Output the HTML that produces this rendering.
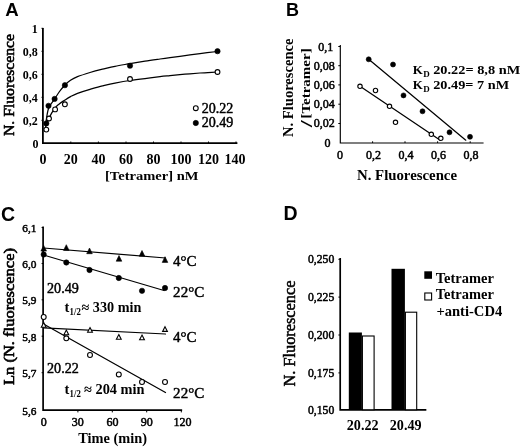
<!DOCTYPE html>
<html lang="en">
<head>
<meta charset="utf-8">
<title>Figure</title>
<style>
html,body{margin:0;padding:0;background:#fff;}
body{width:520px;height:448px;overflow:hidden;}
svg{display:block;will-change:transform;}
text{font-family:"Liberation Serif",serif;fill:#000;}
.b{font-weight:normal;stroke:#000;stroke-width:0.5px;stroke-linejoin:round;}
.B{font-weight:bold;}
.m{stroke:#000;stroke-width:0.35px;stroke-linejoin:round;}
.m2{stroke:#000;stroke-width:0.45px;stroke-linejoin:round;}
.pl{font-family:"Liberation Sans",sans-serif;font-weight:bold;font-size:18px;}
.ax{stroke:#000;stroke-width:1.15;fill:none;stroke-linecap:square;}
.tk{stroke:#000;stroke-width:1;fill:none;}
.ln{stroke:#000;stroke-width:1.25;fill:none;stroke-linecap:round;stroke-linejoin:round;}
.fc{fill:#000;stroke:#000;stroke-width:0.6;}
.oc{fill:#fff;stroke:#000;stroke-width:1.1;}
</style>
</head>
<body>
<svg width="520" height="448" viewBox="0 0 520 448">
<rect x="0" y="0" width="520" height="448" fill="#fff"/>

<!-- ================= PANEL A ================= -->
<g id="panelA">
<text class="pl" style="font-size:18.6px" x="5.2" y="16.4">A</text>
<!-- axes -->
<path class="ax" style="stroke-width:1.8" d="M42.9 29 V143.2 H236.5"/>
<path class="tk" d="M41.5 28.3H43.3 M41.5 51.3H43.3 M41.5 74.3H43.3 M41.5 97.3H43.3 M41.5 120.3H43.3
 M70.8 141.5V143.2 M98.4 141.5V143.2 M126 141.5V143.2 M153.5 141.5V143.2 M181 141.5V143.2 M208.5 141.5V143.2 M236 141.5V143.2"/>
<!-- y labels -->
<g class="B" font-size="12" text-anchor="end">
<text x="37.8" y="32.5">1</text>
<text x="37.8" y="55.5">0,8</text>
<text x="37.8" y="78.5">0,6</text>
<text x="37.8" y="101.5">0,4</text>
<text x="37.8" y="124.5">0,2</text>
<text x="38.6" y="147.6">0</text>
</g>
<!-- x labels -->
<g class="B" font-size="14" text-anchor="middle">
<text x="42.9" y="164">0</text>
<text x="70.8" y="164">20</text>
<text x="98.4" y="164">40</text>
<text x="126" y="164">60</text>
<text x="153.5" y="164">80</text>
<text x="181" y="164">100</text>
<text x="208.5" y="164">120</text>
<text x="235" y="164">140</text>
</g>
<text class="B" font-size="13.5" x="105" y="179.8" textLength="93.5" lengthAdjust="spacingAndGlyphs">[Tetramer] nM</text>
<text class="b" style="stroke-width:0.6px" font-size="15.2" transform="translate(14.2 136) rotate(-90)" textLength="102" lengthAdjust="spacingAndGlyphs">N. Fluorescence</text>
<!-- curves -->
<path class="ln" d="M45.6 125.0 C46.1 122.2 47.0 112.8 48.5 108.5 C50.0 104.2 52.7 102.0 54.5 99.2 C56.3 96.4 57.8 93.9 59.5 91.5 C61.2 89.1 63.2 86.9 65.0 85.0 C66.8 83.1 68.4 81.7 70.5 80.3 C72.6 78.9 74.2 78.0 77.5 76.7 C80.8 75.4 85.8 73.8 90.0 72.5 C94.2 71.2 98.3 70.2 102.5 69.2 C106.7 68.2 110.4 67.2 115.0 66.3 C119.6 65.4 125.0 64.5 130.0 63.6 C135.0 62.8 140.0 62.0 145.0 61.2 C150.0 60.4 155.8 59.6 160.0 59.0 C164.2 58.4 165.8 58.2 170.0 57.6 C174.2 57.0 180.0 56.3 185.0 55.6 C190.0 54.9 194.6 54.3 200.0 53.6 C205.4 52.9 214.6 51.9 217.5 51.5"/>
<path class="ln" d="M45.6 127.0 C46.1 125.6 47.2 121.8 48.7 118.7 C50.2 115.7 52.7 111.2 54.5 108.7 C56.3 106.2 57.8 105.2 59.5 103.7 C61.2 102.2 63.2 101.2 65.0 100.0 C66.8 98.8 68.4 97.7 70.5 96.6 C72.6 95.5 74.2 94.5 77.5 93.3 C80.8 92.1 85.8 90.5 90.0 89.3 C94.2 88.1 98.3 86.9 102.5 85.9 C106.7 84.9 110.4 84.0 115.0 83.1 C119.6 82.2 125.0 81.2 130.0 80.5 C135.0 79.8 140.0 79.2 145.0 78.6 C150.0 78.0 155.8 77.2 160.0 76.7 C164.2 76.2 165.8 76.1 170.0 75.7 C174.2 75.3 180.0 74.7 185.0 74.2 C190.0 73.8 194.6 73.4 200.0 73.0 C205.4 72.6 214.6 72.2 217.5 72.0"/>
<!-- points -->
<g class="fc">
<circle cx="46.3" cy="123.4" r="2.65"/>
<circle cx="48.5" cy="105.8" r="2.65"/>
<circle cx="54.6" cy="98.9" r="2.65"/>
<circle cx="64.9" cy="85.2" r="2.65"/>
<circle cx="130" cy="65.7" r="2.65"/>
<circle cx="217.5" cy="51.2" r="2.65"/>
</g>
<g class="oc">
<circle cx="46.3" cy="129.6" r="2.4"/>
<circle cx="49" cy="118.5" r="2.4"/>
<circle cx="55.1" cy="109.4" r="2.4"/>
<circle cx="64.9" cy="104.3" r="2.4"/>
<circle cx="130" cy="79" r="2.4"/>
<circle cx="217.5" cy="72" r="2.4"/>
</g>
<!-- legend -->
<circle class="oc" cx="195.8" cy="108.2" r="2.4"/>
<circle class="fc" cx="195.8" cy="123" r="2.65"/>
<text class="m2" font-size="14" x="201.7" y="112.5" textLength="31.6" lengthAdjust="spacingAndGlyphs">20.22</text>
<text class="m2" font-size="14" x="201.7" y="127.1" textLength="31.6" lengthAdjust="spacingAndGlyphs">20.49</text>
</g>

<!-- ================= PANEL B ================= -->
<g id="panelB">
<text class="pl" x="286" y="16">B</text>
<path class="ax" d="M340.3 45.5 V143 H483"/>
<path class="tk" d="M338.3 46.5H340.3 M338.3 65.7H340.3 M338.3 84.9H340.3 M338.3 104.2H340.3 M338.3 123.5H340.3
 M372.6 141.3V143 M405 141.3V143 M437.6 141.3V143 M470.2 141.3V143"/>
<g class="b" font-size="12" text-anchor="end">
<text x="333.3" y="50.6">0,1</text>
<text x="334.8" y="69.5">0,08</text>
<text x="334.8" y="88.5">0,06</text>
<text x="334.8" y="108">0,04</text>
<text x="334.8" y="127.2">0,02</text>
<text x="330.5" y="147.3">0</text>
</g>
<g class="b" font-size="12" text-anchor="middle">
<text x="340" y="158.8">0</text>
<text x="373.5" y="158.8">0,2</text>
<text x="406" y="158.8">0,4</text>
<text x="438.5" y="158.8">0,6</text>
<text x="471" y="158.8">0,8</text>
</g>
<text class="B" font-size="14.3" x="357" y="179.6" textLength="100" lengthAdjust="spacingAndGlyphs">N. Fluorescence</text>
<text class="B" font-size="14.3" transform="translate(293 137) rotate(-90)" textLength="98.5" lengthAdjust="spacingAndGlyphs">N. Fluorescence</text>
<text font-weight="bold" font-size="16" transform="translate(311.6 127.3) rotate(-90) scale(1.55 1)">/</text>
<text class="B" font-size="11.8" transform="translate(309.6 118.6) rotate(-90)" textLength="70.3" lengthAdjust="spacingAndGlyphs">[Tetramer]</text>
<!-- lines -->
<path class="ln" d="M368.7 59.3 L465.8 140.2"/>
<path class="ln" d="M360 86.3 L440.3 140.2"/>
<g class="fc">
<circle cx="368.7" cy="59.3" r="2.5"/>
<circle cx="393" cy="64.5" r="2.5"/>
<circle cx="403.5" cy="95.4" r="2.5"/>
<circle cx="422.5" cy="111.3" r="2.5"/>
<circle cx="449.5" cy="132.3" r="2.5"/>
<circle cx="470" cy="136.8" r="2.5"/>
</g>
<g class="oc">
<circle cx="360" cy="86.3" r="2.2"/>
<circle cx="375.5" cy="90.5" r="2.2"/>
<circle cx="389.5" cy="106.3" r="2.2"/>
<circle cx="395.5" cy="122.3" r="2.2"/>
<circle cx="431.3" cy="134.3" r="2.2"/>
<circle cx="440.8" cy="138.3" r="2.2"/>
</g>
<text class="B" font-size="13" x="412.7" y="74.2">K</text><text class="B" font-size="9" x="423.3" y="77">D</text><text class="B" font-size="13" x="433.2" y="74.2" textLength="87" lengthAdjust="spacingAndGlyphs">20.22= 8,8 nM</text>
<text class="B" font-size="13" x="412.7" y="89.4">K</text><text class="B" font-size="9" x="423.3" y="92.2">D</text><text class="B" font-size="13" x="433.2" y="89.4" textLength="76" lengthAdjust="spacingAndGlyphs">20.49= 7 nM</text>
</g>

<!-- ================= PANEL C ================= -->
<g id="panelC">
<text class="pl" style="font-size:19.5px" x="1" y="221">C</text>
<path class="ax" style="stroke-width:1.7" d="M43.1 227.3 V410.2 H181.3"/>
<path class="tk" d="M41.6 227.5H43.4 M41.6 263.5H43.4 M41.6 299.8H43.4 M41.6 336.2H43.4 M41.6 372.7H43.4
 M77.9 410.2V412.4 M112.3 410.2V412.4 M146.7 410.2V412.4 M181.3 410.2V412.4"/>
<g class="b" font-size="11.3" text-anchor="end">
<text x="36.4" y="231.6">6,1</text>
<text x="36.4" y="267.6">6,0</text>
<text x="36.4" y="304">5,9</text>
<text x="36.4" y="340.5">5,8</text>
<text x="36.4" y="377.2">5,7</text>
<text x="36.4" y="415.2">5,6</text>
</g>
<g class="b" font-size="12" text-anchor="middle">
<text x="43.7" y="426.3">0</text>
<text x="77.8" y="426.3">30</text>
<text x="112.5" y="426.3">60</text>
<text x="146.7" y="426.3">90</text>
<text x="182.6" y="426.3">120</text>
</g>
<text class="B" font-size="15" x="78.3" y="443.3" textLength="68.8" lengthAdjust="spacingAndGlyphs">Time (min)</text>
<text class="b" style="stroke-width:0.65px" font-size="15" transform="translate(13.5 385) rotate(-90)" textLength="137" lengthAdjust="spacingAndGlyphs">Ln (N. fluorescence)</text>
<!-- fit lines -->
<path class="ln" d="M43.5 248 L165.5 258"/>
<path class="ln" d="M43.5 255 L164 290.5"/>
<path class="ln" d="M43.5 327.9 L165.5 334"/>
<path class="ln" d="M43.5 324 L165.5 392.5"/>
<!-- filled triangles -->
<g class="fc">
<path d="M43.7 245.4l2.8 5.7h-5.6z"/>
<path d="M66.3 244.7l2.8 5.7h-5.6z"/>
<path d="M89.5 248l2.8 5.7h-5.6z"/>
<path d="M119 255.5l2.8 5.7h-5.6z"/>
<path d="M142 250.5l2.8 5.7h-5.6z"/>
<path d="M165 256.7l2.8 5.7h-5.6z"/>
</g>
<!-- filled circles -->
<g class="fc">
<circle cx="43.7" cy="254.5" r="2.65"/>
<circle cx="66.3" cy="262.5" r="2.65"/>
<circle cx="89.5" cy="270" r="2.65"/>
<circle cx="118.8" cy="278" r="2.65"/>
<circle cx="142" cy="290.8" r="2.65"/>
<circle cx="165" cy="288" r="2.65"/>
</g>
<!-- open triangles -->
<g class="oc">
<path d="M43.7 322.6l2.4 4.6h-4.8z"/>
<path d="M66.3 330.1l2.4 4.6h-4.8z"/>
<path d="M90 327.6l2.4 4.6h-4.8z"/>
<path d="M118.8 334.6l2.4 4.6h-4.8z"/>
<path d="M142 335.1l2.4 4.6h-4.8z"/>
<path d="M165 326.8l2.4 4.6h-4.8z"/>
</g>
<!-- open circles -->
<g class="oc">
<circle cx="43.7" cy="317" r="2.45"/>
<circle cx="66.3" cy="338.3" r="2.45"/>
<circle cx="90" cy="355" r="2.45"/>
<circle cx="118.8" cy="374.4" r="2.45"/>
<circle cx="142" cy="382" r="2.45"/>
<circle cx="165" cy="382" r="2.45"/>
</g>
<!-- labels -->
<g class="b" style="stroke-width:0.45px" font-size="15">
<text x="173.1" y="266.3" textLength="23.5" lengthAdjust="spacingAndGlyphs">4°C</text>
<text x="173.1" y="297.3" textLength="31.2" lengthAdjust="spacingAndGlyphs">22°C</text>
<text x="173.1" y="341.7" textLength="23.5" lengthAdjust="spacingAndGlyphs">4°C</text>
<text x="173.1" y="398.3" textLength="31.2" lengthAdjust="spacingAndGlyphs">22°C</text>
</g>
<text class="m2" font-size="14.3" x="47" y="293.2" textLength="31.8" lengthAdjust="spacingAndGlyphs">20.49</text>
<text class="m2" font-size="14.3" x="47" y="372.7" textLength="31.8" lengthAdjust="spacingAndGlyphs">20.22</text>
<text font-weight="bold" font-size="14.5" x="64.5" y="311.7">t</text><text class="B" font-size="9.5" x="69.6" y="315" textLength="11.2" lengthAdjust="spacingAndGlyphs">1/2</text><text class="B" font-size="13.8" x="81.5" y="311.7" textLength="59.8" lengthAdjust="spacingAndGlyphs">≈ 330 min</text>
<text font-weight="bold" font-size="14.5" x="64.5" y="394">t</text><text class="B" font-size="9.5" x="69.6" y="397.3" textLength="11.2" lengthAdjust="spacingAndGlyphs">1/2</text><text class="B" font-size="13.8" x="84" y="394" textLength="60.5" lengthAdjust="spacingAndGlyphs">≈ 204 min</text>
</g>

<!-- ================= PANEL D ================= -->
<g id="panelD">
<text class="pl" style="font-size:19.5px" x="283.5" y="219.5">D</text>
<path class="ax" style="stroke-width:1.7" d="M340.2 258.8 V409.8 H425.5"/>
<path class="tk" d="M338.4 259.3H340 M338.4 297.1H340 M338.4 335H340 M338.4 372.9H340"/>
<g class="b" font-size="12.3">
<text x="308" y="263.2" textLength="26.3" lengthAdjust="spacingAndGlyphs">0,250</text>
<text x="308" y="301" textLength="26.3" lengthAdjust="spacingAndGlyphs">0,225</text>
<text x="308" y="339" textLength="26.3" lengthAdjust="spacingAndGlyphs">0,200</text>
<text x="308" y="377" textLength="26.3" lengthAdjust="spacingAndGlyphs">0,175</text>
<text x="308" y="414" textLength="26.3" lengthAdjust="spacingAndGlyphs">0,150</text>
</g>
<!-- bars -->
<rect x="348.8" y="332.5" width="13.1" height="77.3" fill="#000"/>
<rect x="362.4" y="336" width="11.7" height="73.8" fill="#fff" stroke="#000" stroke-width="1.1"/>
<rect x="391.5" y="268.8" width="13.4" height="141" fill="#000"/>
<rect x="405.4" y="312.2" width="11.3" height="97.6" fill="#fff" stroke="#000" stroke-width="1.1"/>
<g class="B" font-size="14.3">
<text x="346.8" y="429.8" textLength="31.8" lengthAdjust="spacingAndGlyphs">20.22</text>
<text x="389.8" y="429.8" textLength="31.8" lengthAdjust="spacingAndGlyphs">20.49</text>
</g>
<text class="b" font-size="16.8" transform="translate(295.3 386.5) rotate(-90)" textLength="106" lengthAdjust="spacingAndGlyphs">N. Fluorescence</text>
<!-- legend -->
<rect x="424.3" y="271.3" width="7.7" height="7.5" fill="#000"/>
<rect x="424.8" y="293" width="6.8" height="7" fill="#fff" stroke="#000" stroke-width="1.1"/>
<g class="B" font-size="14.8">
<text x="435.8" y="283" textLength="58" lengthAdjust="spacingAndGlyphs">Tetramer</text>
<text x="435.8" y="298.8" textLength="58" lengthAdjust="spacingAndGlyphs">Tetramer</text>
<text x="436.4" y="315.7" textLength="65.8" lengthAdjust="spacingAndGlyphs">+anti-CD4</text>
</g>
</g>
</svg>
</body>
</html>
